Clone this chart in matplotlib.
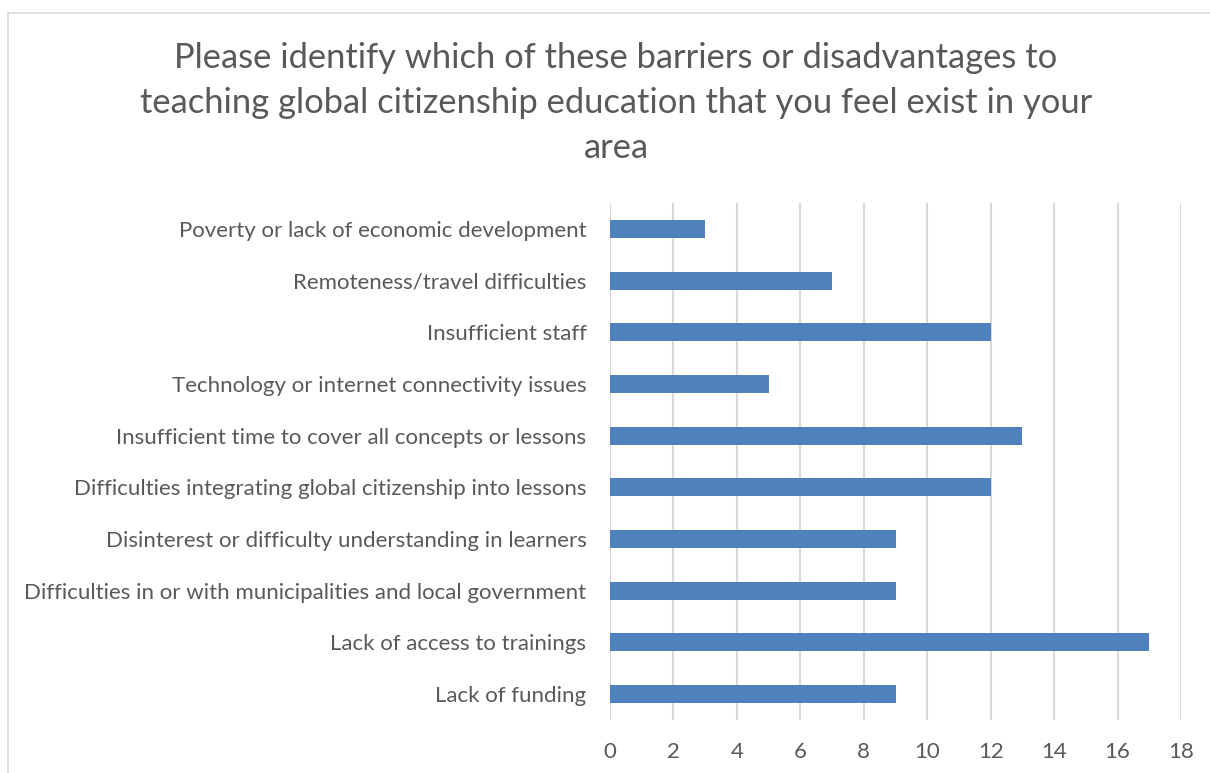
import matplotlib
matplotlib.use("Agg")
from matplotlib import pyplot as plt
from matplotlib.patches import Rectangle

# barriers, listed top to bottom
categories = [
    "Poverty or lack of economic development",
    "Remoteness/travel difficulties",
    "Insufficient staff",
    "Technology or internet connectivity issues",
    "Insufficient time to cover all concepts or lessons",
    "Difficulties integrating global citizenship into lessons",
    "Disinterest or difficulty understanding in learners",
    "Difficulties in or with municipalities and local government",
    "Lack of access to trainings",
    "Lack of funding",
]
counts = [3, 7, 12, 5, 13, 12, 9, 9, 17, 9]
x_ticks = [0, 2, 4, 6, 8, 10, 12, 14, 16, 18]

title = ("Please identify which of these barriers or disadvantages to\n"
         "teaching global citizenship education that you feel exist in your\n"
         "area")

plt.rcParams['font.family'] = ['Lato', 'DejaVu Sans']
text_color = '#595959'
bar_color = '#4F81BD'
grid_color = '#D9D9D9'

W, H = 1210, 773
fig = plt.figure(figsize=(W / 100, H / 100), dpi=100)
ax = fig.add_axes([610 / W, 1 - 720 / H, (1181 - 610) / W, (720 - 203) / H])

ypos = list(range(len(categories)))
ax.barh(ypos, counts, height=0.35, color=bar_color, zorder=3)

ax.set_xlim(0, 18)
ax.set_ylim(len(categories) - 0.5, -0.5)
ax.set_xticks(x_ticks)
ax.set_yticks(ypos)
ax.set_yticklabels(categories)
ax.tick_params(axis='y', length=0, pad=17, labelsize=16, labelcolor=text_color)
ax.tick_params(axis='x', length=0, pad=16, labelsize=16, labelcolor=text_color)
ax.grid(axis='x', color=grid_color, linewidth=1.5, zorder=0)
for s in ax.spines.values():
    s.set_visible(False)

fig.text(616 / W, 1 - 103 / H, title, ha='center', va='center', fontsize=24.8,
         color=text_color, linespacing=1.5)

# chart-area frame
fig.add_artist(Rectangle((8 / W, -0.1), 1.2, 1 - 13 / H + 0.1,
                         transform=fig.transFigure, fill=False,
                         ec=grid_color, lw=1.2))

fig.savefig("out.png", dpi=100)
